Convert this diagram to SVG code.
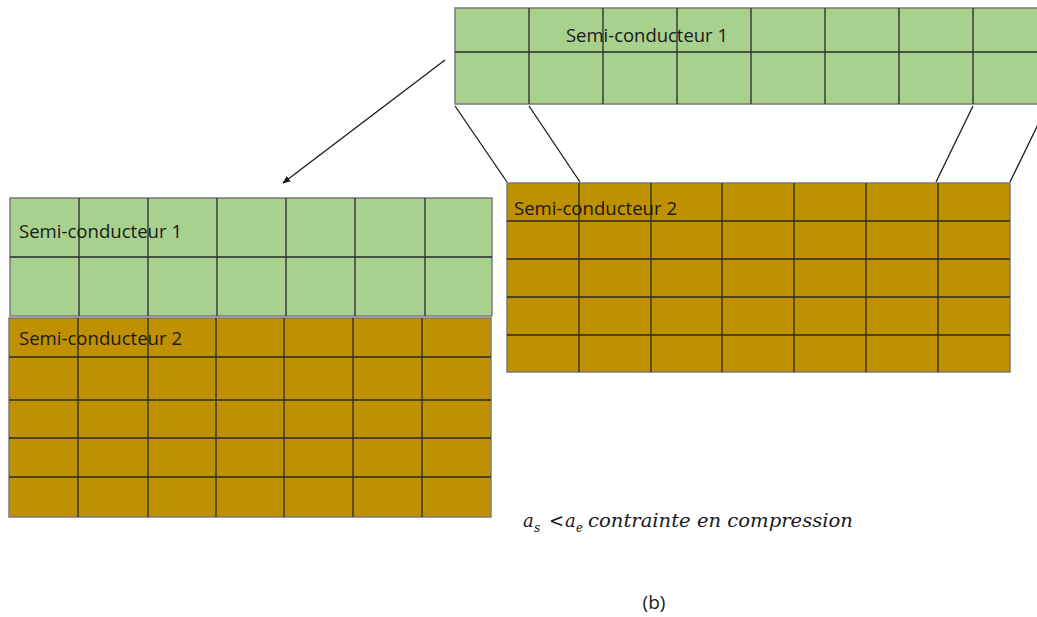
<svg xmlns="http://www.w3.org/2000/svg" width="1037" height="617" viewBox="0 0 1037 617">
<style>
.green{fill:#A9D18E;stroke:#7a7a7a;stroke-width:1.5}
.brown{fill:#BF9000;stroke:#7a7a7a;stroke-width:1.5}
.grid{stroke:#2a2a2a;stroke-width:1.3;fill:none}
.lbl{font-family:"Open Sans",Lato,sans-serif;font-size:18px;fill:#1a1a1a}
.conn{stroke:#1a1a1a;stroke-width:1.3;fill:none}
.math{font-family:"DejaVu Serif",serif;font-style:italic;font-size:18px;fill:#1a1a1a}
.sub{font-family:"DejaVu Serif",serif;font-style:italic;font-size:12px;fill:#1a1a1a}
.cap{font-family:"Open Sans",Lato,sans-serif;font-size:19px;fill:#1a1a1a}
</style>
<defs>
<marker id="ah" viewBox="0 0 10 10" refX="9" refY="5" markerWidth="8" markerHeight="8" orient="auto" markerUnits="userSpaceOnUse">
<path d="M0,1 L10,5 L0,9 Z" fill="#1a1a1a"/>
</marker>
</defs>
<g id="top-sc1">
<rect class="green" x="455" y="8" width="600" height="96"/>
<path class="grid" d="M455,52H1055 M529,8V104 M603,8V104 M677,8V104 M751,8V104 M825,8V104 M899,8V104 M973,8V104"/>
<text class="lbl" x="566" y="42" textLength="162" lengthAdjust="spacingAndGlyphs">Semi-conducteur 1</text>
</g>
<g id="right-sc2">
<rect class="brown" x="507" y="183" width="503" height="189"/>
<path class="grid" d="M507,221H1010 M507,259H1010 M507,297H1010 M507,335H1010 M579,183V372 M651,183V372 M722,183V372 M794,183V372 M866,183V372 M938,183V372"/>
<text class="lbl" x="514" y="215" textLength="163" lengthAdjust="spacingAndGlyphs">Semi-conducteur 2</text>
</g>
<g id="left-sc1">
<rect class="green" x="10" y="198" width="482" height="118"/>
<path class="grid" d="M10,257H492 M79,198V316 M148,198V316 M217,198V316 M286,198V316 M355,198V316 M425,198V316"/>
<text class="lbl" x="19" y="238" textLength="163" lengthAdjust="spacingAndGlyphs">Semi-conducteur 1</text>
</g>
<g id="left-sc2">
<rect class="brown" x="9" y="318" width="482" height="199"/>
<path class="grid" d="M9,357H491 M9,400H491 M9,438H491 M9,477H491 M78,318V517 M148,318V517 M216,318V517 M284,318V517 M353,318V517 M422,318V517"/>
<text class="lbl" x="19" y="345" textLength="163" lengthAdjust="spacingAndGlyphs">Semi-conducteur 2</text>
</g>
<g id="connectors">
<line class="conn" x1="455" y1="106" x2="507" y2="182"/>
<line class="conn" x1="529" y1="106" x2="580" y2="182"/>
<line class="conn" x1="973" y1="106" x2="936" y2="182"/>
<line class="conn" x1="1047" y1="106" x2="1010" y2="182"/>
<line class="conn" x1="445" y1="60" x2="283" y2="183" marker-end="url(#ah)"/>
</g>
<g id="caption">
<text class="math" x="523" y="527">a</text>
<text class="sub" x="534" y="532">s</text>
<text class="math" x="549" y="527" font-style="normal">&lt;</text>
<text class="math" x="565" y="527">a</text>
<text class="sub" x="576" y="532">e</text>
<text class="math" x="588" y="527" textLength="265" lengthAdjust="spacingAndGlyphs">contrainte en compression</text>
<text class="cap" x="654" y="609" text-anchor="middle">(b)</text>
</g>
</svg>
